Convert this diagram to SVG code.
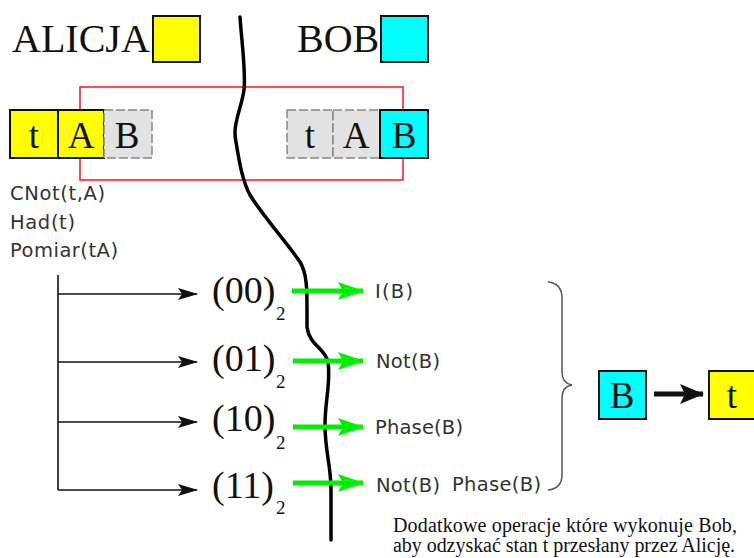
<svg xmlns="http://www.w3.org/2000/svg" width="754" height="558" viewBox="0 0 754 558">
<defs>
<style>
.serif{font-family:"Liberation Serif","Times New Roman",serif;fill:#111}
.sans{font-family:"DejaVu Sans","Verdana",sans-serif;font-size:19.5px;fill:#333}
.big{font-size:40px}
.box{font-size:37px;text-anchor:middle}
.num{font-size:38px}
.sub{font-size:19px}
.solid{stroke:#111;stroke-width:2}
.dash{fill:#e2e2e2;stroke:#888;stroke-width:1.5;stroke-dasharray:9 3}
.yel{fill:#ffff00}
.cyn{fill:#00ffff}
.conn{stroke:#111;stroke-width:1.6;fill:none}
.green{stroke:#00ee00;stroke-width:5;fill:none}
</style>
<marker id="ah" viewBox="0 0 20 12" refX="19" refY="6" markerWidth="20" markerHeight="12" markerUnits="userSpaceOnUse" orient="auto">
<path d="M0,0 L20,6 L0,12 L4,6 Z" fill="#111"/>
</marker>
<marker id="gh" viewBox="0 0 26 18" refX="25" refY="9" markerWidth="26" markerHeight="18" markerUnits="userSpaceOnUse" orient="auto">
<path d="M0,0 L26,9 L0,18 L5,9 Z" fill="#00ee00"/>
</marker>
<marker id="bh" viewBox="0 0 24 20" refX="23" refY="10" markerWidth="24" markerHeight="20" markerUnits="userSpaceOnUse" orient="auto">
<path d="M0,0 L24,10 L0,20 L5,10 Z" fill="#111"/>
</marker>
</defs>
<rect width="754" height="558" fill="#ffffff"/>

<g id="title-alicja">
<text class="serif big" x="12" y="52">ALICJA</text>
<rect class="yel solid" x="153" y="16" width="47" height="46"/>
</g>
<g id="title-bob">
<text class="serif big" x="297" y="52">BOB</text>
<rect class="cyn solid" x="381" y="16" width="47" height="46"/>
</g>

<g id="entangle-link">
<rect x="80" y="87" width="323" height="93" fill="none" stroke="#ff2020" stroke-width="1.6"/>
</g>

<g id="alice-register">
<rect class="yel solid" x="10" y="110" width="48" height="48"/>
<text class="serif box" x="34" y="148">t</text>
<rect class="yel solid" x="58" y="110" width="46" height="48"/>
<text class="serif box" x="81" y="148">A</text>
<rect class="dash" x="104" y="110" width="48" height="48"/>
<text class="serif box" x="127" y="148">B</text>
</g>

<g id="bob-register">
<rect class="dash" x="287" y="110" width="46" height="48"/>
<text class="serif box" x="310" y="148">t</text>
<rect class="dash" x="333" y="110" width="47" height="48"/>
<text class="serif box" x="356" y="148">A</text>
<rect class="cyn solid" x="380" y="110" width="48" height="48"/>
<text class="serif box" x="404" y="148">B</text>
</g>

<g id="divider">
<path d="M240,17 C242,45 246,72 244,90 C241,110 232,125 236,142 C239,160 242,180 250,195 C262,215 285,240 300,262 C307,273 307,290 307,310 L307,327 C309,345 325,348 328,362 C331,382 325,400 325,425 C325,452 331,465 331,490 L331,540" fill="none" stroke="#000" stroke-width="3.5" stroke-linecap="round"/>
</g>

<g id="alice-ops">
<text class="sans" x="10" y="200" textLength="95">CNot(t,A)</text>
<text class="sans" x="10" y="229" textLength="65">Had(t)</text>
<text class="sans" x="10" y="257" textLength="108">Pomiar(tA)</text>
</g>

<g id="connectors">
<line class="conn" x1="58" y1="275" x2="58" y2="490"/>
<line class="conn" x1="58" y1="294" x2="197" y2="294" marker-end="url(#ah)"/>
<line class="conn" x1="58" y1="362" x2="197" y2="362" marker-end="url(#ah)"/>
<line class="conn" x1="58" y1="422" x2="197" y2="422" marker-end="url(#ah)"/>
<line class="conn" x1="58" y1="490" x2="197" y2="490" marker-end="url(#ah)"/>
<line class="green" x1="292" y1="291" x2="363" y2="291" marker-end="url(#gh)"/>
<line class="green" x1="293" y1="361" x2="363" y2="361" marker-end="url(#gh)"/>
<line class="green" x1="293" y1="427" x2="363" y2="427" marker-end="url(#gh)"/>
<line class="green" x1="293" y1="483" x2="363" y2="483" marker-end="url(#gh)"/>
<line x1="654" y1="394" x2="703" y2="394" stroke="#111" stroke-width="5" marker-end="url(#bh)"/>
<path d="M548,282 C557,283 562,288 562,298 L562,372 C562,380 566,384 572,385 C566,386 562,390 562,398 L562,475 C562,484 557,489 548,490" fill="none" stroke="#555" stroke-width="1.5"/>
</g>

<g id="result-00">
<text class="serif num" x="212" y="303">(00)<tspan class="sub" x="276" y="320">2</tspan></text>
</g>
<g id="result-01">
<text class="serif num" x="212" y="371">(01)<tspan class="sub" x="276" y="388">2</tspan></text>
</g>
<g id="result-10">
<text class="serif num" x="212" y="431">(10)<tspan class="sub" x="276" y="449">2</tspan></text>
</g>
<g id="result-11">
<text class="serif num" x="212" y="498">(11)<tspan class="sub" x="276" y="514">2</tspan></text>
</g>

<g id="bob-ops">
<text class="sans" x="375" y="298" textLength="38">I(B)</text>
<text class="sans" x="376" y="368" textLength="64">Not(B)</text>
<text class="sans" x="375" y="434" textLength="88">Phase(B)</text>
<text class="sans" x="376" y="492" textLength="64">Not(B)</text>
<text class="sans" x="452" y="491" textLength="89">Phase(B)</text>
</g>

<g id="result-b">
<rect class="cyn solid" x="599" y="371" width="47" height="48"/>
<text class="serif box" x="622" y="408">B</text>
</g>
<g id="result-t">
<rect class="yel solid" x="709" y="371" width="47" height="48"/>
<text class="serif box" x="732" y="408">t</text>
</g>

<g id="caption">
<text class="serif" font-size="20" x="393" y="532" textLength="344">Dodatkowe operacje które wykonuje Bob,</text>
<text class="serif" font-size="20" x="393" y="552" textLength="342">aby odzyskać stan t przesłany przez Alicję.</text>
</g>
</svg>
